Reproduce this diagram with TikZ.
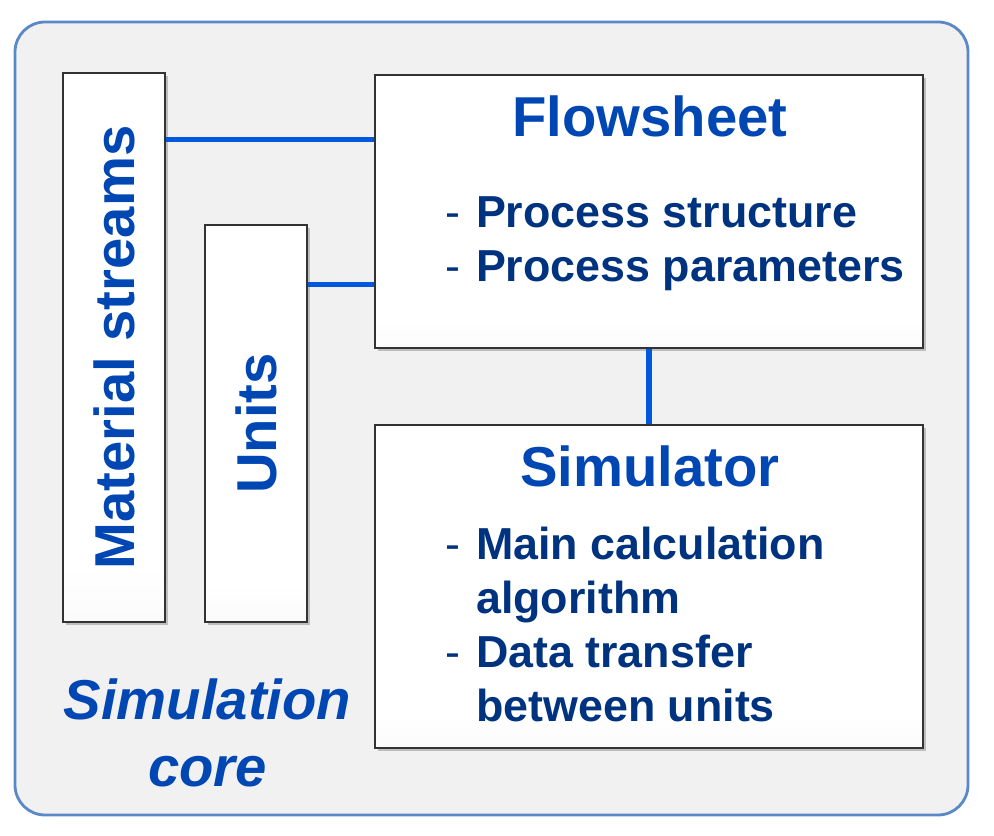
\documentclass[tikz,border=0pt]{standalone}
\usepackage{fontspec}
\setmainfont{Liberation Sans}
\definecolor{coreFill}{HTML}{F1F1F1}
\definecolor{coreEdge}{HTML}{5B88C6}
\definecolor{headBlue}{HTML}{0047B3}
\definecolor{textNavy}{HTML}{00337F}
\definecolor{linkBlue}{HTML}{0058DC}
\usetikzlibrary{shadows}
\pgfdeclareverticalshading{panelShade}{100bp}{color(0bp)=(black!10); color(30bp)=(white); color(100bp)=(white)}

\begin{document}
\begin{tikzpicture}[
  panel/.style={draw=black!80, line width=0.8pt, shading=panelShade, inner sep=0pt,
                drop shadow={shadow xshift=1.6pt, shadow yshift=-1.6pt, opacity=0.45}},
  heading/.style={text=headBlue, font=\fontsize{32}{38}\selectfont\bfseries, inner sep=0pt},
  bullets/.style={text=textNavy, font=\fontsize{25.5}{30.7}\selectfont\bfseries, inner sep=0pt},
  link/.style={draw=linkBlue, line width=3pt}
]
\useasboundingbox (0,0) rectangle (19.88,16.72);
\draw[fill=coreFill, draw=coreEdge, line width=1.6pt, rounded corners=0.6cm]
  (0.30,0.42) rectangle (19.36,16.28);

% boxes
\node[panel, minimum width=2.04cm, minimum height=10.98cm] (ms) at (2.28,9.77) {};
\node[panel, minimum width=2.04cm, minimum height=7.94cm] (un) at (5.12,8.25) {};
\node[panel, minimum width=10.96cm, minimum height=5.46cm] (fs) at (12.98,12.49) {};
\node[panel, minimum width=10.96cm, minimum height=6.46cm] (sim) at (12.98,4.99) {};

% links
\coordinate (msJoin) at ([yshift=-1.3cm]fs.north west);
\coordinate (unJoin) at ([yshift=-1.2cm]un.north east);
\draw[link] (msJoin -| ms.east) -- (msJoin);
\draw[link] (unJoin) -- (unJoin -| fs.west);
\draw[link] (fs.south) -- (sim.north);

% texts
\node[heading, rotate=90] (msText) at (ms.center) {Material streams};
\node[heading, rotate=90] (unText) at (un.center) {Units};
\node[heading, anchor=base] (fsTitle) at (13.0,13.98) {Flowsheet};
\node[bullets, anchor=base west] (fsList) at (8.90,12.16)
  {\begin{tabular}[t]{@{}l@{\hspace{9pt}}l@{}}
   \mdseries- & Process structure\\
   \mdseries- & Process parameters
   \end{tabular}};
\node[heading, anchor=base] (simTitle) at (13.0,6.98) {Simulator};
\node[bullets, anchor=base west] (simList) at (8.90,5.52)
  {\begin{tabular}[t]{@{}l@{\hspace{9pt}}l@{}}
   \mdseries- & Main calculation\\
     & algorithm\\
   \mdseries- & Data transfer\\
     & between units
   \end{tabular}};
\node[heading, font=\fontsize{32}{38.6}\selectfont\bfseries\itshape, align=center,
      anchor=north] (coreText) at (4.15,3.16) {Simulation\\core};
\end{tikzpicture}
\end{document}
